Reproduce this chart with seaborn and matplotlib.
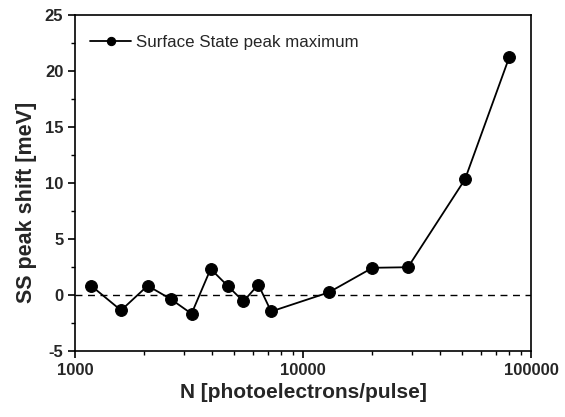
import numpy as np
import pandas as pd
import matplotlib
matplotlib.use('Agg')
import matplotlib.pyplot as plt
from matplotlib.ticker import LogLocator, NullFormatter, MultipleLocator
import seaborn as sns

# data
n_photo = [1175, 1590, 2080, 2630, 3240, 3930, 4660, 5470, 6360, 7240,
           12950, 20150, 28840, 51300, 80200]
ss_shift = [0.8, -1.4, 0.8, -0.4, -1.7, 2.3, 0.8, -0.6, 0.9, -1.5,
            0.2, 2.4, 2.45, 10.3, 21.2]
series_name = 'Surface State peak maximum'

df = pd.DataFrame({'N': n_photo, 'shift': ss_shift})

sns.set_style('ticks')
plt.rcParams['font.family'] = ['Liberation Sans', 'DejaVu Sans']
plt.rcParams['axes.unicode_minus'] = False

fig = plt.figure(figsize=(5.65, 4.17), dpi=100)
ax = fig.add_axes([0.133, 0.159, 0.807, 0.806])

sns.lineplot(data=df, x='N', y='shift', ax=ax, color='black', marker='o',
             markersize=8.5, linewidth=1.3, markeredgecolor='black',
             label=series_name, sort=False)
ax.axhline(0, color='black', linestyle='--', linewidth=1, dashes=(5, 4))

ax.set_xscale('log')
ax.set_xlim(1000, 100000)
ax.set_ylim(-5, 25)
ax.set_xticks([1000, 10000, 100000])
ax.set_xticklabels(['1000', '10000', '100000'])
ax.xaxis.set_minor_locator(LogLocator(base=10, subs=np.arange(2, 10)))
ax.xaxis.set_minor_formatter(NullFormatter())
ax.yaxis.set_major_locator(MultipleLocator(5))
ax.yaxis.set_minor_locator(MultipleLocator(2.5))

for s in ax.spines.values():
    s.set_visible(True)
    s.set_linewidth(1.2)
    s.set_color('black')

ax.tick_params(which='major', direction='out', length=5, width=1.2,
               labelsize=12, color='black')
ax.tick_params(which='minor', direction='out', length=3, width=1, color='black')
for lab in ax.get_xticklabels() + ax.get_yticklabels():
    lab.set_fontweight('bold')

ax.set_xlabel('N [photoelectrons/pulse]', fontsize=15, fontweight='bold')
ax.set_ylabel('SS peak shift [meV]', fontsize=15.5, fontweight='bold')
ax.xaxis.set_label_coords(0.5, -0.095)
ax.yaxis.set_label_coords(-0.083, 0.44)

leg = ax.legend(loc='upper left', bbox_to_anchor=(0, 0.985), frameon=False,
                fontsize=12.2, handlelength=2.4, borderaxespad=0.5,
                handletextpad=0.3, markerscale=0.7)

fig.savefig('out.png', dpi=100)
